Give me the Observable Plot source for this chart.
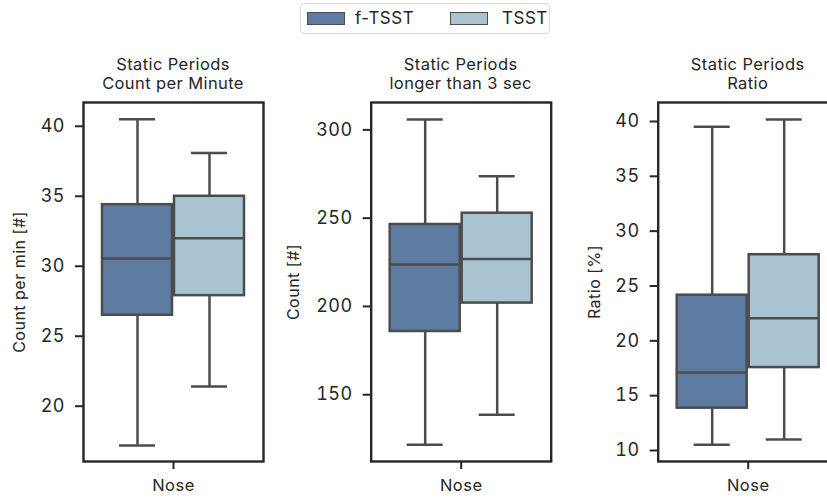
<!DOCTYPE html>
<html>
<head>
<meta charset="utf-8">
<script src="https://cdn.jsdelivr.net/npm/d3@7"></script>
<script src="https://cdn.jsdelivr.net/npm/@observablehq/plot@0.6"></script>
<style>
  html, body { margin: 0; padding: 0; background: #fff; overflow: hidden; width: 827px; height: 502px; }
  body { position: relative; font-family: Inter, "Noto Sans", sans-serif; color: #262626; }
  .panel { position: absolute; top: 40px; }
  .title { position: absolute; text-align: center; font-size: 16.5px; letter-spacing: 0.4px; line-height: 19px; width: 240px; white-space: nowrap; }
  #legend { position: absolute; left: 300px; top: 3px; width: 250px; height: 31px; border: 1px solid #d9d9d9; border-radius: 4px; box-sizing: border-box; font-size: 17px; letter-spacing: 0.5px; }
  .sw { position: absolute; top: 8px; width: 38px; height: 13px; box-sizing: border-box; border: 1.5px solid #4c4c4c; }
  .lt { position: absolute; top: 4px; line-height: 20px; }
</style>
</head>
<body>
<div id="legend"></div>
<script>
// ---- data ----
const groups = ["f-TSST", "TSST"];
const groupColors = ["#5e7ca1", "#a9c3d0"];
const category = "Nose";

const titles = ["Static Periods\nCount per Minute", "Static Periods\nlonger than 3 sec", "Static Periods\nRatio"];
const yLabels = ["Count per min [#]", "Count [#]", "Ratio [%]"];

// Panel 1: count per minute
const cpmLow  = [17.2, 21.4];
const cpmQ1   = [26.5, 27.9];
const cpmMed  = [30.55, 32.0];
const cpmQ3   = [34.4, 35.0];
const cpmHigh = [40.5, 38.1];
const cpmTicks = [20, 25, 30, 35, 40];
const cpmDomain = [16.05, 41.7];

// Panel 2: count longer than 3 sec
const cntLow  = [121.7, 138.7];
const cntQ1   = [185.8, 201.9];
const cntMed  = [223.8, 226.8];
const cntQ3   = [246.4, 252.8];
const cntHigh = [305.8, 273.7];
const cntTicks = [150, 200, 250, 300];
const cntDomain = [112.2, 315.5];

// Panel 3: ratio
const ratLow  = [10.52, 11.0];
const ratQ1   = [13.86, 17.56];
const ratMed  = [17.11, 22.06];
const ratQ3   = [24.16, 27.85];
const ratHigh = [39.52, 40.18];
const ratTicks = [10, 15, 20, 25, 30, 35, 40];
const ratDomain = [9.0, 41.73];

// ---- layout ----
const frameW = 180;
const panels = [
  {svgLeft: 0,   marginLeft: 83,  labelOffset: 70, low: cpmLow, q1: cpmQ1, med: cpmMed, q3: cpmQ3, high: cpmHigh, ticks: cpmTicks, domain: cpmDomain},
  {svgLeft: 270, marginLeft: 100.7, labelOffset: 84, low: cntLow, q1: cntQ1, med: cntMed, q3: cntQ3, high: cntHigh, ticks: cntTicks, domain: cntDomain},
  {svgLeft: 560, marginLeft: 97.7, labelOffset: 70, low: ratLow, q1: ratQ1, med: ratMed, q3: ratQ3, high: ratHigh, ticks: ratTicks, domain: ratDomain}
];

const hueWidth = 0.8 / groups.length;
const ink = "#4c4c4c";
const dark = "#262626";

panels.forEach((p, k) => {
  const rows = groups.map((g, i) => {
    const center = (i - (groups.length - 1) / 2) * hueWidth;
    return {
      group: g, center,
      left: center - hueWidth / 2, right: center + hueWidth / 2,
      capL: center - hueWidth / 4, capR: center + hueWidth / 4,
      low: p.low[i], q1: p.q1[i], med: p.med[i], q3: p.q3[i], high: p.high[i]
    };
  });
  const width = p.marginLeft + frameW + 17;
  const chart = Plot.plot({
    width,
    height: 462,
    marginLeft: p.marginLeft,
    marginRight: 17,
    marginTop: 62,
    marginBottom: 41,
    style: {fontFamily: "Inter, 'Noto Sans', sans-serif", background: "transparent", color: dark, overflow: "visible", letterSpacing: "0.5px"},
    x: {domain: [-0.5, 0.5]},
    y: {domain: p.domain},
    color: {domain: groups, range: groupColors},
    marks: [
      Plot.ruleX(rows, {x: "center", y1: "low", y2: "high", stroke: ink, strokeWidth: 2.5}),
      Plot.ruleY(rows, {y: "low", x1: "capL", x2: "capR", stroke: ink, strokeWidth: 2.5}),
      Plot.ruleY(rows, {y: "high", x1: "capL", x2: "capR", stroke: ink, strokeWidth: 2.5}),
      Plot.rect(rows, {x1: "left", x2: "right", y1: "q1", y2: "q3", fill: "group", stroke: ink, strokeWidth: 2.5, insetLeft: 1, insetRight: 1}),
      Plot.ruleY(rows, {y: "med", x1: "left", x2: "right", stroke: ink, strokeWidth: 2.5, insetLeft: 1, insetRight: 1}),
      Plot.frame({stroke: dark, strokeWidth: 2.4}),
      Plot.axisY({ticks: p.ticks, tickSize: 8, tickPadding: 10.5, fontSize: 18, strokeWidth: 2, stroke: dark,
        label: yLabels[k], labelAnchor: "center", labelArrow: "none", labelOffset: p.labelOffset}),
      Plot.axisX({ticks: [0], tickFormat: () => category, tickSize: 8, tickPadding: 9.5, fontSize: 16.5, strokeWidth: 2, stroke: dark, label: null})
    ]
  });
  chart.classList.add("panel");
  chart.style.left = p.svgLeft + "px";
  d3.select(chart).selectAll("g[aria-label='y-axis label'] text").style("font-size", "16px");
  document.body.appendChild(chart);

  const t = document.createElement("div");
  t.className = "title";
  t.innerHTML = titles[k].split("\n").join("<br>");
  t.style.left = (p.svgLeft + p.marginLeft + frameW / 2 - 120) + "px";
  t.style.top = "55px";
  document.body.appendChild(t);
});

// ---- legend ----
const legend = document.getElementById("legend");
const swLeft = [6, 149], txtLeft = [54, 201];
groups.forEach((g, i) => {
  const sw = document.createElement("div");
  sw.className = "sw";
  sw.style.left = swLeft[i] + "px";
  sw.style.background = groupColors[i];
  legend.appendChild(sw);
  const tx = document.createElement("div");
  tx.className = "lt";
  tx.style.left = txtLeft[i] + "px";
  tx.textContent = g;
  legend.appendChild(tx);
});
</script>
</body>
</html>
